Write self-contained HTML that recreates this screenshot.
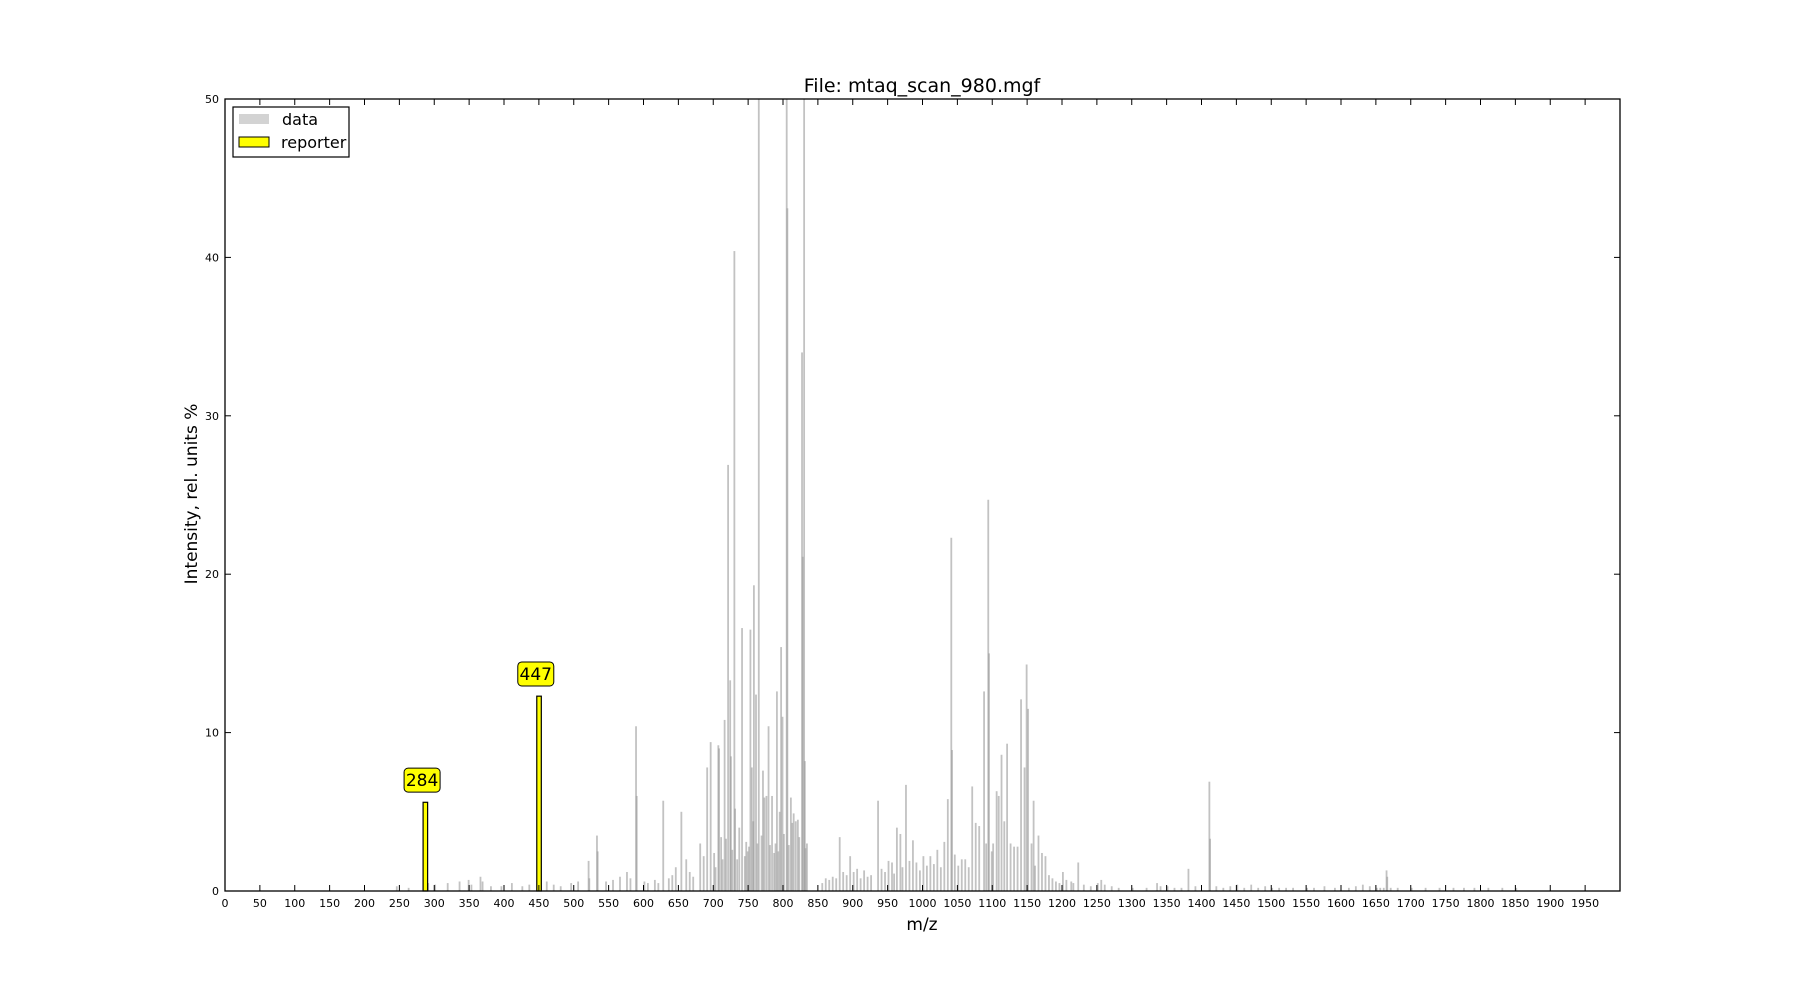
<!DOCTYPE html>
<html><head><meta charset="utf-8"><style>
html,body{margin:0;padding:0;background:#fff;}
svg{display:block;font-family:"DejaVu Sans","Liberation Sans",sans-serif;}
</style></head><body>
<svg id="chart" width="1800" height="990" viewBox="0 0 1800 990">
<rect x="0" y="0" width="1800" height="990" fill="#fff"/>
<text x="922" y="92" font-size="19" text-anchor="middle">File: mtaq_scan_980.mgf</text>
<g id="plot"></g>
<text x="922" y="930" font-size="17" text-anchor="middle">m/z</text>
<text x="0" y="0" font-size="17" text-anchor="middle" transform="translate(197,494) rotate(-90)">Intensity, rel. units %</text>
<g>
<rect x="233" y="107" width="116" height="50" fill="#fff" stroke="#000" stroke-width="1.2"/>
<rect x="239" y="114" width="30" height="10" fill="#d3d3d3"/>
<text x="282" y="125" font-size="16">data</text>
<rect x="239" y="137" width="30" height="10" fill="#ffff00" stroke="#000" stroke-width="1"/>
<text x="281" y="148" font-size="16">reporter</text>
</g>
</svg>
<script>
const dataMz = [588,589,627,653,690,695,706,707,715,720,723,724,729,730,740,752,754,757,760,764,770,772,778,783,790,794,796,798,804,805,810,814,817,820,826,827,829,830,833,
880,895,905,935,950,962,967,975,985,1000,1010,1020,1030,1035,1040,1041,1045,1060,1070,1075,1080,1087,1090,1093,1094,1100,1105,1108,1112,1116,1120,1125,1130,1140,1145,1148,1150,1155,1158,1165,1170,1175,1180,1185,1200,1205,1212,1222,
1380,1410,1411,1450,1664,1665,
245,262,290,300,318,335,348,352,365,368,380,395,410,425,435,460,470,480,495,505,520,521,532,533,545,555,565,575,580,600,605,615,620,635,640,645,660,665,670,680,685,700,702,710,712,717,726,733,736,744,746,748,750,756,762,768,775,780,786,788,792,800,807,812,822,831,
855,860,865,870,875,885,890,900,910,915,920,925,940,945,955,958,970,980,990,995,1005,1015,1025,1050,1055,1065,1098,1135,1160,1190,1195,1215,1230,1240,1250,1255,1260,1270,1280,1300,1320,1335,1340,1350,1360,1370,1390,1420,1430,1440,1460,1470,1480,1490,1500,1510,1520,1530,1550,1560,1575,1590,1610,1620,1630,1640,1650,1655,1660,1670,1680,1700,1720,1740,1760,1775,1790,1810,1830,1850,1860,1880,1900,1920,1935,1950];
const dataInt = [10.4,6.0,5.7,5.0,7.8,9.4,9.2,9.0,10.8,26.9,13.3,8.5,40.4,5.2,16.6,16.5,7.8,19.3,12.4,60,7.6,5.9,10.4,6.0,12.6,5.0,15.4,11.0,60,43.1,5.9,4.9,4.4,4.5,34.0,21.1,60,8.2,3.0,
3.4,2.2,1.4,5.7,1.9,4.0,3.6,6.7,3.2,2.2,2.2,2.6,3.1,5.8,22.3,8.9,2.3,2.0,6.6,4.3,4.1,12.6,3.0,24.7,15.0,3.0,6.3,6.0,8.6,4.4,9.3,3.0,2.8,12.1,7.8,14.3,11.5,3.0,5.7,3.5,2.4,2.2,1.0,0.8,1.2,0.7,0.6,1.8,
1.4,6.9,3.3,0.4,1.3,0.9,
0.3,0.2,0.5,0.4,0.5,0.6,0.7,0.4,0.9,0.6,0.3,0.3,0.5,0.3,0.4,0.6,0.4,0.3,0.5,0.6,1.9,0.8,3.5,2.5,0.6,0.7,0.9,1.2,0.8,0.6,0.5,0.7,0.5,0.8,1.0,1.5,2.0,1.2,0.9,3.0,2.2,2.4,1.5,3.4,2.0,3.3,2.6,2.0,4.0,2.2,3.1,2.5,2.8,4.4,3.0,3.5,6.0,2.9,2.4,3.0,2.5,3.6,2.9,4.3,3.4,2.7,
0.5,0.8,0.7,0.9,0.8,1.2,1.0,1.2,0.8,1.3,0.9,1.0,1.4,1.2,1.8,1.1,1.5,1.9,1.8,1.3,1.6,1.7,1.5,1.6,2.0,1.5,2.5,2.8,1.6,0.6,0.5,0.5,0.4,0.3,0.5,0.7,0.4,0.3,0.2,0.2,0.2,0.5,0.3,0.3,0.2,0.2,0.3,0.3,0.2,0.3,0.2,0.4,0.2,0.3,0.2,0.2,0.2,0.2,0.2,0.2,0.3,0.2,0.2,0.3,0.4,0.3,0.2,0.2,0.2,0.2,0.2,0.2,0.2,0.2,0.2,0.2,0.2,0.2,0.2,0.2];
const reporterMz = [284, 447];
const reporterInt = [5.6, 12.3];
const reporterLabels = ["284", "447"];
const xTicks = [];
for (let t = 0; t <= 1950; t += 50) xTicks.push(t);
const yTicks = [0, 10, 20, 30, 40, 50];

const L = 225, R = 1620, T = 99, B = 891, XMAX = 2000, YMAX = 50;
const NS = 'http://www.w3.org/2000/svg';
function xs(v){ return L + v / XMAX * (R - L); }
function ys(v){ return B - Math.min(v, YMAX) / YMAX * (B - T); }
const plot = document.getElementById('plot');
function mk(tag, attrs){ const e = document.createElementNS(NS, tag); for (const k in attrs) e.setAttribute(k, attrs[k]); plot.appendChild(e); return e; }

for (let i = 0; i < dataMz.length; i++) {
  const r = mk('rect', {x: xs(dataMz[i]), y: ys(dataInt[i]), width: 1.8, height: B - ys(dataInt[i]), fill: '#9a9a9a', 'fill-opacity': 0.6});
  
  
}
for (let i = 0; i < reporterMz.length; i++) {
  const w = xs(reporterMz[i] + 6.5) - xs(reporterMz[i]);
  const r = mk('rect', {x: xs(reporterMz[i]), y: ys(reporterInt[i]), width: w, height: B - ys(reporterInt[i]), fill: '#ffff00', stroke: '#000', 'stroke-width': 1.2});
  
  
  const cx = xs(reporterMz[i]) - 1, cy = ys(reporterInt[i] + 1.4);
  const b = mk('rect', {x: cx - 18, y: cy - 12, width: 36, height: 24, rx: 4, fill: '#ffff00', stroke: '#000', 'stroke-width': 1});
  
  
  const t = mk('text', {x: cx, y: cy + 6, 'font-size': 17, 'text-anchor': 'middle'});
  t.textContent = reporterLabels[i];
  
  
}
const frame = mk('rect', {x: L, y: T, width: R - L, height: B - T, fill: 'none', stroke: '#000', 'stroke-width': 1.3});


for (const t of xTicks) {
  const x = xs(t);
  const a = mk('line', {x1: x, x2: x, y1: B, y2: B - 6, stroke: '#000', 'stroke-width': 1});
  
  
  const b = mk('line', {x1: x, x2: x, y1: T, y2: T + 6, stroke: '#000', 'stroke-width': 1});
  
  
  const l = mk('text', {x: x, y: B + 16, 'font-size': 11, 'text-anchor': 'middle'});
  l.textContent = t;
  
  
}
for (const t of yTicks) {
  const y = ys(t);
  const a = mk('line', {x1: L, x2: L + 6, y1: y, y2: y, stroke: '#000', 'stroke-width': 1});
  
  
  const b = mk('line', {x1: R, x2: R - 6, y1: y, y2: y, stroke: '#000', 'stroke-width': 1});
  
  
  const l = mk('text', {x: L - 6, y: y + 4, 'font-size': 11, 'text-anchor': 'end'});
  l.textContent = t;
  
  
}
</script>
</body></html>
